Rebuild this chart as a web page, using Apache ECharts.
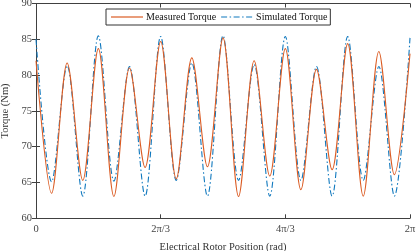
<!DOCTYPE html>
<html><head><meta charset="utf-8">
<script src="https://cdn.jsdelivr.net/npm/echarts@6/dist/echarts.min.js"></script>
<style>html,body{margin:0;padding:0;background:#fff}#c{width:418px;height:251px}</style>
</head><body><div id="c"></div>
<script>
// Electrical rotor position in degrees (0..360 = 0..2π)
const positionsDeg = [0,15,30,45,60,75,90,105,120,135,150,165,180,195,210,225,240,255,270,285,300,315,330,345,360];
const measuredTorque = [82.0,63.5,81.7,65.3,83.7,63.05,81.0,67.1,84.7,65.5,82.4,67.2,85.2,63.05,82.0,65.9,83.7,64.0,80.8,66.8,84.4,63.1,83.3,66.1,83.0];
const simulatedTorque = [85.0,65.1,81.3,63.1,85.5,65.2,81.2,63.1,85.4,65.3,81.7,63.1,85.5,65.3,81.5,63.1,85.4,65.3,81.2,63.1,85.4,65.3,81.2,63.1,85.2];
const xTickValues = [0,120,240,360];
const xTickLabels = ['0','2π/3','4π/3','2π'];
const seriesNames = ['Measured Torque','Simulated Torque'];

const FONT = 'Liberation Serif';
const AX = '#404040';
const pair = arr => positionsDeg.map((x,i)=>[x,arr[i]]);
const fmtX = v => { const i = xTickValues.indexOf(v); return i>=0 ? xTickLabels[i] : ''; };
const solidIcon = 'path://M0,0H32V1.2H0Z';
const dashDotIcon = 'path://M0,0H6V1.2H0Z M8.5,0H10V1.2H8.5Z M12.5,0H18.5V1.2H12.5Z M21,0H22.5V1.2H21Z M25,0H31V1.2H25Z M31.01,0H32V0.01H31.01Z';

const chart = echarts.init(document.getElementById('c'), null, {renderer:'canvas'});
const baseX = {type:'value',min:0,max:360,interval:120,splitLine:{show:false},
  axisLine:{lineStyle:{color:AX,width:1}},axisTick:{inside:true,length:4,lineStyle:{color:AX}}};
const baseY = {type:'value',min:60,max:90,interval:5,splitLine:{show:false},
  axisLine:{show:true,lineStyle:{color:AX,width:1}},axisTick:{show:true,inside:true,length:4,lineStyle:{color:AX}}};
chart.setOption({
  animation:false,
  backgroundColor:'#fff',
  grid:{left:36,right:8,top:3.5,bottom:32.7,containLabel:false,outerBoundsMode:'none'},
  legend:{
    data:[{name:seriesNames[0],icon:solidIcon},{name:seriesNames[1],icon:dashDotIcon}],
    left:106, top:9,
    backgroundColor:'#fff', borderColor:'#333', borderWidth:1, padding:[3,3,3,5],
    itemWidth:32, itemHeight:10, itemGap:5,
    textStyle:{fontFamily:FONT,fontSize:10,color:'#111',padding:[0,0,0,-2]}
  },
  xAxis:[
    Object.assign({},baseX,{position:'bottom',
      name:'Electrical Rotor Position (rad)',nameLocation:'middle',nameGap:23.5,
      nameTextStyle:{fontFamily:FONT,fontSize:10.5,color:'#333'},
      axisLabel:{formatter:fmtX,fontFamily:FONT,fontSize:10.5,color:'#444',margin:5}}),
    Object.assign({},baseX,{position:'top',axisLabel:{show:false}})
  ],
  yAxis:[
    Object.assign({},baseY,{position:'left',
      name:'Torque (Nm)',nameLocation:'middle',nameGap:18.5,
      nameTextStyle:{fontFamily:FONT,fontSize:10.5,color:'#333'},
      axisLabel:{fontFamily:FONT,fontSize:10.5,color:'#444',margin:4}}),
    Object.assign({},baseY,{position:'right',axisLabel:{show:false}})
  ],
  series:[
    {name:seriesNames[0],type:'line',data:pair(measuredTorque),smooth:0.32,symbol:'none',
     lineStyle:{color:'#DB5C24',width:1.1},itemStyle:{color:'#DB5C24'},z:3},
    {name:seriesNames[1],type:'line',data:pair(simulatedTorque),smooth:0.32,symbol:'none',
     lineStyle:{color:'#0F78BE',width:1.1,type:[6,2.5,1.5,2.5]},itemStyle:{color:'#0F78BE'},z:2}
  ]
});
</script></body></html>
